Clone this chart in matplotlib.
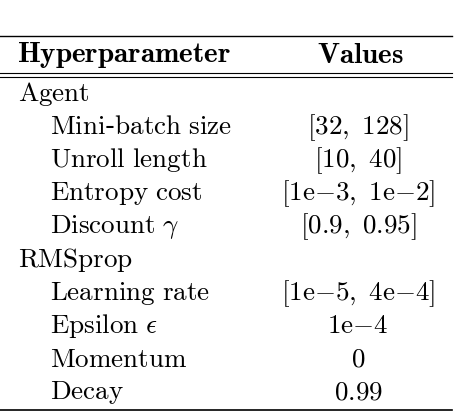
import matplotlib
matplotlib.use("Agg")
import matplotlib.pyplot as plt

plt.rcParams['mathtext.fontset'] = 'cm'

header = [r"$\mathbf{Hyperparameter}$", r"$\mathbf{Values}$"]
groups = ["Agent", "RMSprop"]
names = [
    [r"$\mathrm{Mini}$-$\mathrm{batch\ size}$", r"$\mathrm{Unroll\ length}$", r"$\mathrm{Entropy\ cost}$", r"$\mathrm{Discount}\ \gamma$"],
    [r"$\mathrm{Learning\ rate}$", r"$\mathrm{Epsilon}\ \epsilon$", r"$\mathrm{Momentum}$", r"$\mathrm{Decay}$"],
]
values = [
    [r"$[32,\ 128]$", r"$[10,\ 40]$", r"$[1\mathrm{e}{-}3,\ 1\mathrm{e}{-}2]$", r"$[0.9,\ 0.95]$"],
    [r"$[1\mathrm{e}{-}5,\ 4\mathrm{e}{-}4]$", r"$1\mathrm{e}{-}4$", r"$0$", r"$0.99$"],
]

fig = plt.figure(figsize=(4.54, 4.12), dpi=100)
ax = fig.add_axes([0, 0, 1, 1])
ax.set_xlim(0, 454)
ax.set_ylim(412, 0)
ax.axis('off')

fs = 19.5
ax.plot([0, 452], [36, 36], color='black', lw=1)
ax.plot([0, 452], [73, 73], color='black', lw=0.8)
ax.plot([0, 452], [77, 77], color='black', lw=0.8)
ax.text(17, 55, header[0], fontsize=21, va='center', ha='left')
ax.text(360, 55, header[1], fontsize=21, va='center', ha='center')

y = 94
step = 33.2
for g, grp in enumerate(groups):
    ax.text(18, y, r"$\mathrm{%s}$" % grp, fontsize=fs, va='center', ha='left')
    y += step
    for n, v in zip(names[g], values[g]):
        ax.text(50, y, n, fontsize=fs, va='center', ha='left')
        ax.text(358, y, v, fontsize=fs, va='center', ha='center')
        y += step
ax.plot([0, 452], [410, 410], color='black', lw=1.2)

fig.savefig("out.png", dpi=100)
